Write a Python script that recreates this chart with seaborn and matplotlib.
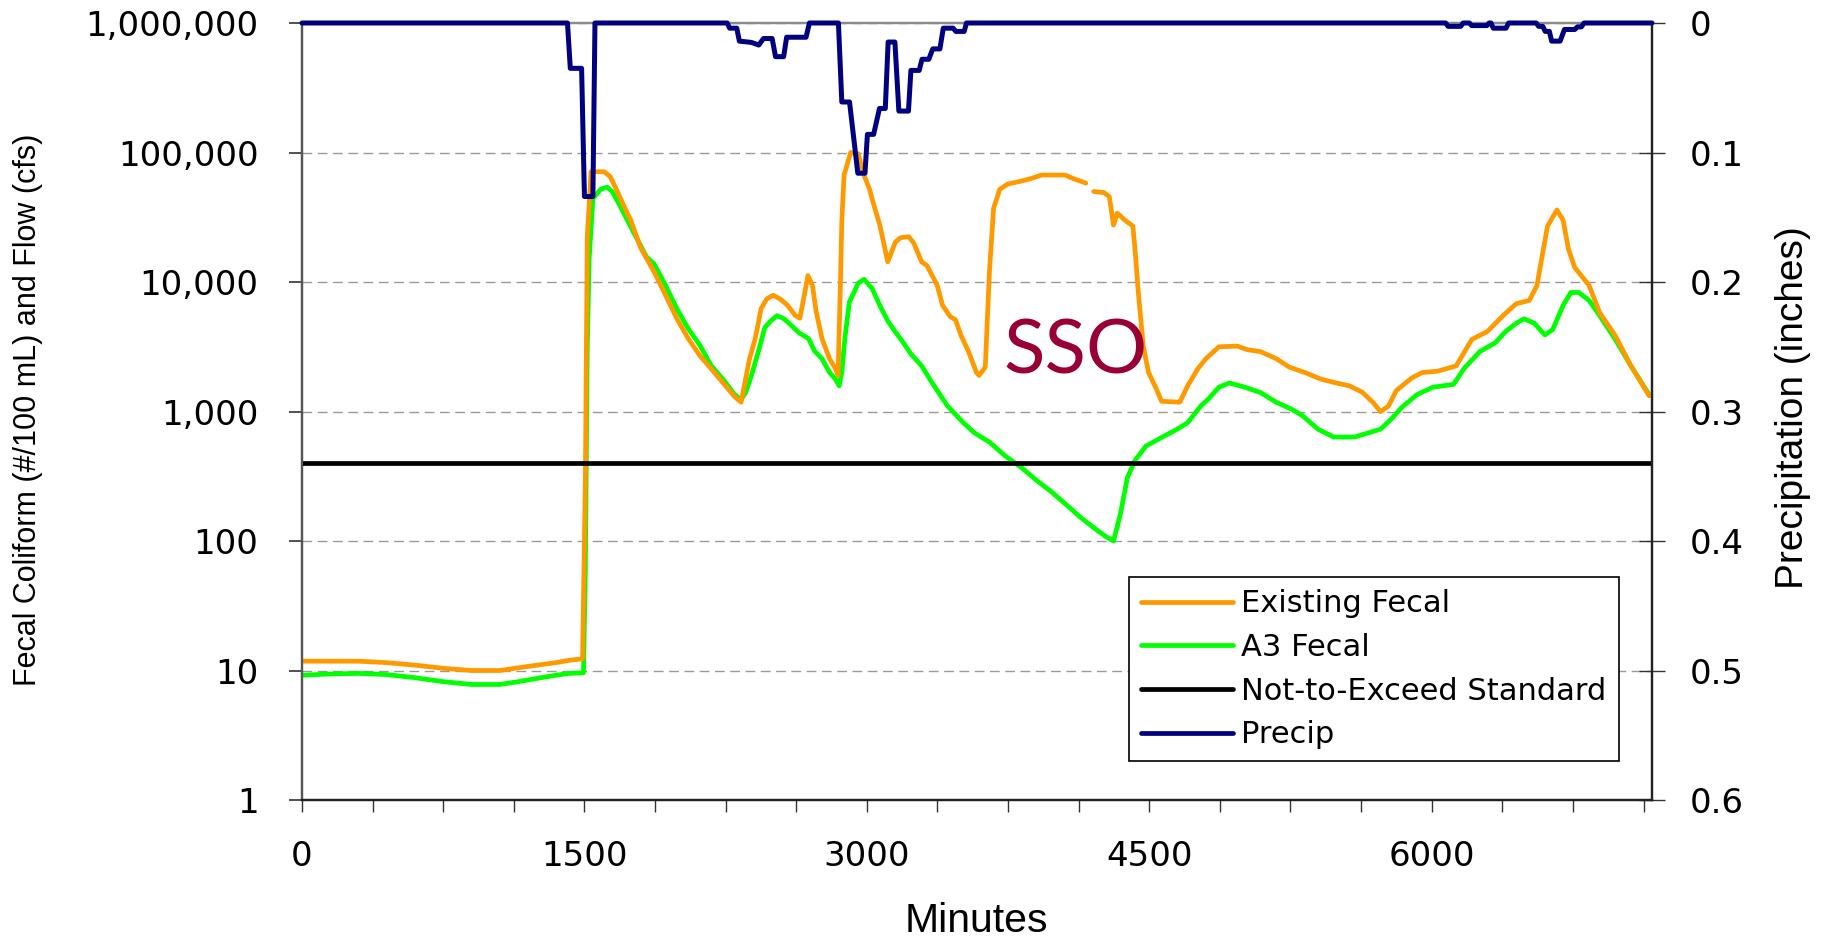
import numpy as np
import pandas as pd
import matplotlib
matplotlib.use("Agg")
import matplotlib.pyplot as plt
import seaborn as sns
from matplotlib.lines import Line2D
from matplotlib.ticker import FixedLocator, MultipleLocator, FuncFormatter, NullLocator

# ---------------- data ----------------
EXISTING_MINUTES = [0, 150, 300, 450, 600, 750, 900, 1050, 1150, 1250, 1350, 1420, 1490, 1505, 1515, 1535,
                    1606, 1637, 1667, 1708, 1748, 1799, 1830, 1870, 1931, 1991, 2052, 2113, 2174, 2235, 2296,
                    2332, 2356, 2377, 2407, 2438, 2468, 2502, 2539, 2579, 2620, 2644, 2664, 2687, 2711, 2731,
                    2762, 2802, 2833, 2847, 2859, 2867, 2879, 2914, 2954, 2985, 3014, 3040, 3069, 3111, 3152,
                    3180, 3222, 3249, 3291, 3319, 3346, 3374, 3402, 3443, 3471, 3499, 3540, 3582, 3596, 3629,
                    3651, 3673, 3706, 3748, 3817, 3873, 3928, 4053, 4094, 4136, 4163, 4184, 4205, 4260, 4288,
                    4310, 4330, 4371, 4413, 4427, 4440, 4468, 4496, 4537, 4565, 4662, 4704, 4759, 4801, 4870,
                    4967, 5022, 5091, 5174, 5244, 5327, 5410, 5493, 5562, 5631, 5687, 5728, 5770, 5812, 5895,
                    5950, 6033, 6130, 6213, 6296, 6379, 6449, 6518, 6559, 6587, 6615, 6665, 6698, 6726, 6759,
                    6836, 6892, 6975, 7058, 7155]
EXISTING_FECAL = [11.8, 11.8, 11.8, 11.5, 11.0, 10.4, 10.0, 10.0, 10.5, 11.0, 11.5, 12.0, 12.3, 300, 22000, 71000,
                  71000, 65000, 53000, 39000, 29500, 18300, 15200, 12000, 7900, 5200, 3650, 2700, 2130, 1670, 1310,
                  1180, 1780, 2550, 3650, 6200, 7400, 7900, 7400, 6600, 5500, 5250, 7400, 11200, 9400, 5900,
                  3650, 2550, 2150, 1900, 8900, 29500, 67000, 100000, 98000, 67000, 52000, 38000, 27500, 14300, 20400,
                  22000, 22400, 20000, 14300, 13400, 11300, 9400, 6600, 5400, 5100, 3900, 2900, 2000, 1900, 2200,
                  12000, 37000, 52000, 57000, 60000, 63000, 67000, 67000, 63000, 60000, 58000, np.nan, 50000, 49000, 45500,
                  27500, 34000, 30000, 27000, 16000, 8900, 3200, 2000, 1500, 1200, 1180, 1580, 2150, 2560, 3160,
                  3200, 3000, 2900, 2560, 2200, 2000, 1780, 1660, 1580, 1410, 1180, 1000, 1100, 1450, 1820,
                  2000, 2050, 2250, 3600, 4150, 5500, 6800, 7200, 9400, 16000, 27000, 36000, 30000, 18000, 13000,
                  9400, 5800, 3850, 2250, 1320]

A3_MINUTES = [0, 150, 300, 450, 600, 750, 900, 1050, 1150, 1250, 1350, 1420, 1495, 1505, 1515, 1525, 1545,
              1586, 1620, 1647, 1688, 1728, 1769, 1830, 1870, 1931, 1991, 2052, 2113, 2174, 2235, 2296, 2332,
              2356, 2387, 2428, 2458, 2489, 2523, 2560, 2600, 2640, 2691, 2721, 2762, 2802, 2833, 2853, 2867,
              2883, 2907, 2933, 2954, 2985, 3028, 3069, 3111, 3152, 3194, 3235, 3291, 3346, 3429, 3512, 3568,
              3651, 3734, 3820, 3900, 3980, 4060, 4140, 4220, 4270, 4310, 4346, 4384, 4427, 4482, 4565, 4648,
              4704, 4773, 4814, 4870, 4925, 5008, 5091, 5174, 5257, 5313, 5396, 5479, 5590, 5673, 5728, 5784,
              5839, 5922, 6006, 6116, 6172, 6255, 6338, 6393, 6449, 6490, 6545, 6601, 6643, 6698, 6739, 6781,
              6836, 6892, 6975, 7058, 7155]
A3_FECAL = [9.2, 9.4, 9.5, 9.3, 8.8, 8.2, 7.8, 7.8, 8.2, 8.7, 9.2, 9.5, 9.6, 60, 3000, 15000, 44000,
            52000, 54000, 50000, 39000, 30000, 23000, 15600, 13800, 9400, 6200, 4350, 3250, 2250, 1780, 1360, 1230,
            1400, 1900, 3050, 4450, 5000, 5500, 5200, 4600, 4050, 3650, 2950, 2550, 2000, 1780, 1580, 2000,
            3650, 7000, 8400, 9800, 10500, 8900, 6600, 5000, 4100, 3400, 2770, 2250, 1670, 1100, 820, 690,
            580, 455, 370, 295, 240, 190, 150, 122, 108, 100, 160, 310, 425, 540, 630, 730,
            820, 1100, 1250, 1540, 1660, 1540, 1400, 1180, 1040, 930, 730, 635, 635, 690, 730, 870,
            1070, 1350, 1540, 1620, 2150, 2900, 3400, 4150, 4800, 5200, 4800, 3900, 4300, 6600, 8300, 8300,
            7200, 5500, 3600, 2250, 1350]

PRECIP_MINUTES = [0, 1410, 1425, 1485, 1500, 1545, 1556,
                  2258, 2271, 2309, 2323, 2387, 2426, 2451, 2497, 2515, 2558, 2574, 2677, 2695,
                  2849, 2867, 2908, 2952, 2990, 3003, 3036, 3067, 3098, 3113, 3149, 3170, 3221, 3234, 3278,
                  3293, 3329, 3350, 3388, 3406, 3458, 3473, 3517, 3529,
                  6074, 6087, 6154, 6167, 6200, 6212, 6293, 6305, 6315, 6327, 6395, 6408,
                  6555, 6568, 6590, 6603, 6625, 6637, 6682, 6705, 6760, 6774, 6795, 6809, 7170]
PRECIP_INCHES = [0, 0, 0.035, 0.035, 0.134, 0.134, 0,
                 0, 0.004, 0.004, 0.014, 0.015, 0.017, 0.012, 0.012, 0.026, 0.026, 0.011, 0.011, 0,
                 0, 0.061, 0.061, 0.116, 0.116, 0.086, 0.086, 0.066, 0.066, 0.0147, 0.0147, 0.068, 0.068, 0.0366, 0.0366,
                 0.028, 0.028, 0.020, 0.020, 0.004, 0.004, 0.0065, 0.0065, 0,
                 0, 0.0026, 0.0026, 0, 0, 0.002, 0.002, 0, 0, 0.004, 0.004, 0,
                 0, 0.0026, 0.0026, 0.0065, 0.0065, 0.014, 0.014, 0.005, 0.005, 0.003, 0.003, 0, 0]

STANDARD = 400
SERIES_NAMES = ["Existing Fecal", "A3 Fecal", "Not-to-Exceed Standard", "Precip"]
X_TICKS = [0, 1500, 3000, 4500, 6000]
Y_TICKS = [1, 10, 100, 1000, 10000, 100000, 1000000]
PRECIP_TICKS = [0, 0.1, 0.2, 0.3, 0.4, 0.5, 0.6]
PRECIP_TICK_LABELS = ["0", "0.1", "0.2", "0.3", "0.4", "0.5", "0.6"]
X_LABEL = "Minutes"
Y_LABEL = "Fecal Coliform (#/100 mL) and Flow (cfs)"
Y2_LABEL = "Precipitation (inches)"
ANNOTATION = "SSO"

COLORS = {"Existing Fecal": "#FF9900", "A3 Fecal": "#00FF00",
          "Not-to-Exceed Standard": "#000000", "Precip": "#000080"}

# ---------------- style ----------------
sns.set_theme(style="white", rc={"text.color": "black", "axes.labelcolor": "black",
                                 "xtick.color": "black", "ytick.color": "black"})
plt.rcParams["font.family"] = ["DejaVu Sans"]
LABEL_FONT = ["Liberation Sans", "DejaVu Sans"]
LW = 3.4

W, H = 1829, 938
fig = plt.figure(figsize=(W / 100, H / 100), dpi=100)
ax = fig.add_axes([302 / W, 1 - 800 / H, 1350 / W, 777 / H])
ax.set_facecolor("white")

# fecal series
ex = pd.DataFrame({"minute": EXISTING_MINUTES, "value": EXISTING_FECAL})
ex["seg"] = ex["value"].isna().cumsum()
ex = ex.dropna()
a3 = pd.DataFrame({"minute": A3_MINUTES, "value": A3_FECAL})

ax.set_yscale("log")
sns.lineplot(data=a3, x="minute", y="value", color=COLORS["A3 Fecal"], lw=LW,
             estimator=None, ax=ax, legend=False, zorder=3)
sns.lineplot(data=ex, x="minute", y="value", units="seg", color=COLORS["Existing Fecal"], lw=LW,
             estimator=None, ax=ax, legend=False, zorder=4)
ax.axhline(STANDARD, color=COLORS["Not-to-Exceed Standard"], lw=LW, zorder=5)

ax.set_xlim(0, 7170)
ax.set_ylim(Y_TICKS[0], Y_TICKS[-1])
ax.yaxis.set_major_locator(FixedLocator(Y_TICKS))
ax.yaxis.set_minor_locator(NullLocator())
ax.yaxis.set_major_formatter(FuncFormatter(lambda v, p: f"{v:,.0f}"))
ax.xaxis.set_major_locator(FixedLocator(X_TICKS))
ax.xaxis.set_minor_locator(MultipleLocator(375))
ax.set_xlabel("")
ax.set_ylabel("")
ax.yaxis.grid(True, which="major", linestyle=(0, (7, 4)), color="#9a9a9a", lw=1.0)
ax.xaxis.grid(False)
ax.tick_params(axis="y", which="major", direction="out", length=9.4, width=1.2,
               pad=22, labelsize=24.5, color="#333333", labelcolor="black", left=True)
ax.tick_params(axis="x", which="both", direction="out", length=8.6, width=1.0,
               pad=20, labelsize=24.5, color="#333333", labelcolor="black", bottom=True)

# precipitation on inverted secondary axis
ax2 = ax.twinx()
pr = pd.DataFrame({"minute": PRECIP_MINUTES, "inches": PRECIP_INCHES})
sns.lineplot(data=pr, x="minute", y="inches", color=COLORS["Precip"], lw=LW + 0.2,
             estimator=None, ax=ax2, legend=False, zorder=6)
for ln in ax2.get_lines():
    ln.set_clip_on(False)
ax2.set_ylim(PRECIP_TICKS[-1], PRECIP_TICKS[0])
ax2.yaxis.set_major_locator(FixedLocator(PRECIP_TICKS))
ax2.set_yticklabels(PRECIP_TICK_LABELS)
ax2.set_ylabel("")
ax2.grid(False)
ax2.tick_params(axis="y", which="major", direction="inout", length=18.7, width=1.0,
                pad=18, labelsize=24.5, color="#333333", labelcolor="black", right=True)

for a in (ax, ax2):
    a.spines["left"].set_color("#555555")
    a.spines["left"].set_linewidth(1.6)
    a.spines["bottom"].set_color("#222222")
    a.spines["bottom"].set_linewidth(1.6)
    a.spines["right"].set_color("#222222")
    a.spines["right"].set_linewidth(1.6)
    a.spines["top"].set_color("#8a8a8a")
    a.spines["top"].set_linewidth(1.6)

# labels
fig.text(976 / W, 1 - 932 / H, X_LABEL, ha="center", va="baseline", fontsize=29.5,
         family=LABEL_FONT, color="black")
fig.text(28.5 / W, 1 - 410 / H, Y_LABEL, ha="center", va="center", rotation=90,
         fontsize=22, family=LABEL_FONT, color="black")
fig.text(1793 / W, 1 - 408 / H, Y2_LABEL, ha="center", va="center", rotation=90,
         fontsize=28, family=LABEL_FONT, color="black")
fig.text(1076 / W, 1 - 373 / H, ANNOTATION, ha="center", va="baseline", fontsize=55,
         family=["Lato", "DejaVu Sans"], color="#990033")

# legend
handles = [Line2D([0], [0], color=COLORS[n], lw=LW) for n in SERIES_NAMES]
leg = ax2.legend(handles, SERIES_NAMES, loc="upper left",
                 bbox_to_anchor=(1129 / W, 1 - 577 / H), bbox_transform=fig.transFigure,
                 borderaxespad=0, fontsize=22, handlelength=3.0, handletextpad=0.27,
                 borderpad=0.4, labelspacing=0.48, frameon=True, fancybox=False)
leg.get_frame().set_edgecolor("black")
leg.get_frame().set_linewidth(1.2)
leg.get_frame().set_facecolor("white")
leg.get_frame().set_alpha(1)
leg.set_zorder(10)
for t in leg.get_texts():
    t.set_color("black")

fig.savefig("out.png", dpi=100)
